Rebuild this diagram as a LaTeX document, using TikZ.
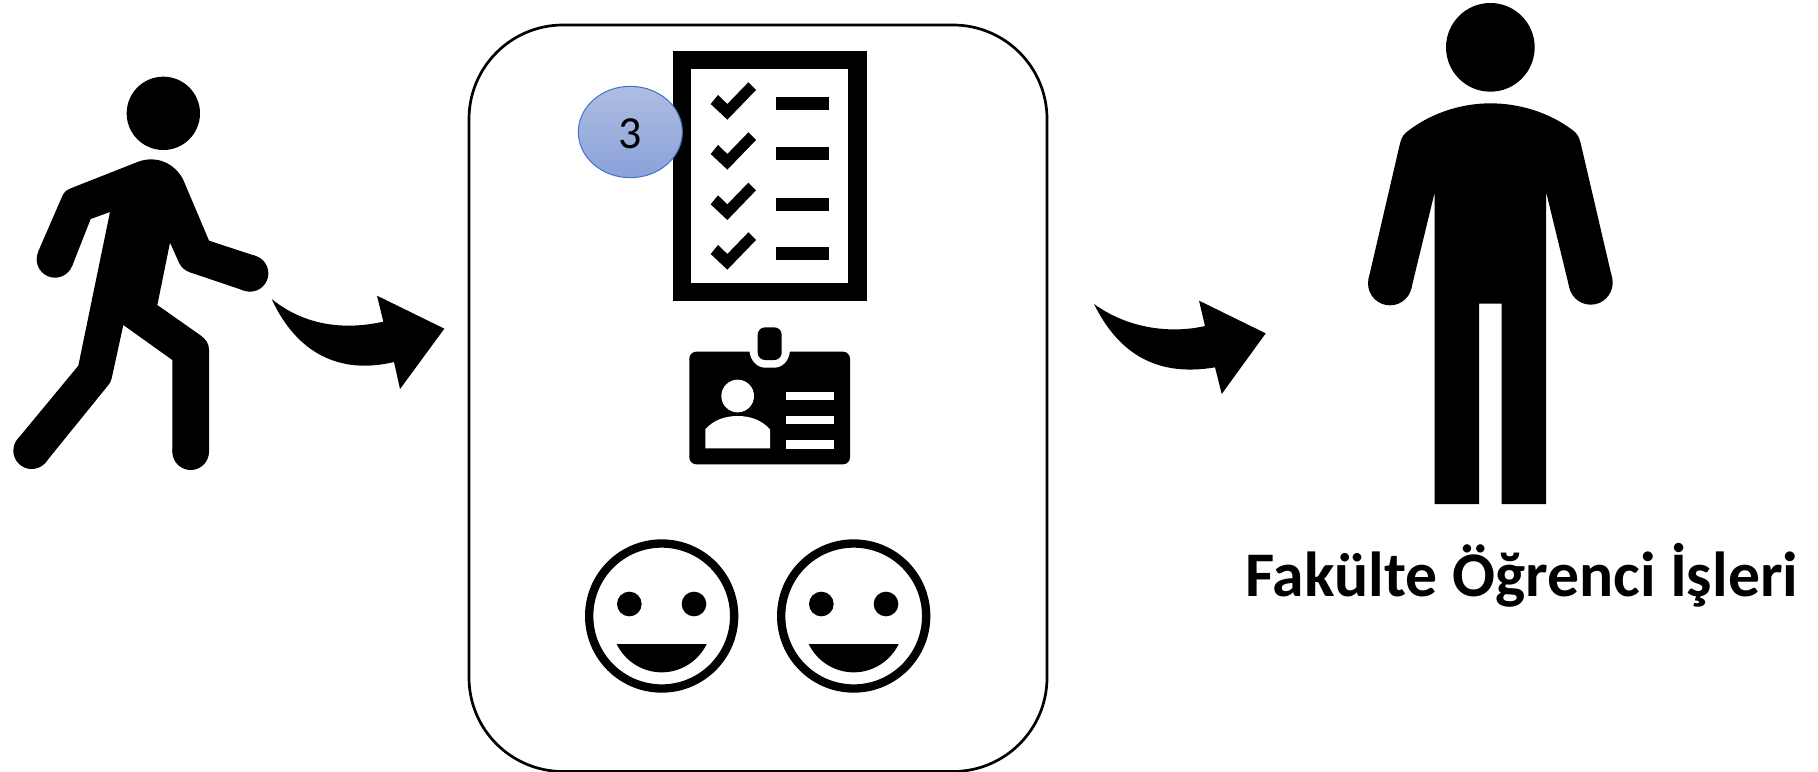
\documentclass[tikz,border=0pt]{standalone}
\usepackage{fontspec}
\setmainfont{Carlito}
\definecolor{badgeedge}{HTML}{4472C4}
\definecolor{badgetop}{HTML}{AEBDE2}
\definecolor{badgebot}{HTML}{8AA2D9}
\tikzset{
  panel/.style={draw=black,line width=1.35pt,rounded corners=47pt,fill=white},
  ink/.style={fill=black,draw=none},
  blank/.style={fill=white,draw=none},
  zoomed/.style={x=0.16667pt,y=-0.16667pt},
  ring/.style={draw=black,line width=4.17pt,fill=white},
}
\begin{document}
\begin{tikzpicture}[x=0.5pt,y=-0.5pt]
\useasboundingbox[fill=white] (0,0) rectangle (1818,771);
\draw[panel] (469,25) rectangle (1047,771.5);
% walking figure
\begin{scope}[shift={(0,60)},zoomed]
\fill[ink] (490,160) circle (110);
\fill[ink] (165,598) circle (55) (750,640) circle (55) (572,1175) circle (55) (95,1172) circle (55);
\fill[ink] (114,576) -- (187,408) .. controls (192,396) and (200,390) .. (212,385)
  -- (415,305) .. controls (470,285) and (525,310) .. (550,360)
  -- (627,542) -- (767,588) -- (733,692)
  -- (570,637) .. controls (555,632) and (545,623) .. (538,610)
  -- (510,548) -- (472,735) -- (600,825) .. controls (618,838) and (627,850) .. (627,870)
  -- (627,1175) -- (517,1175)
  -- (517,900) -- (370,795) -- (335,955) .. controls (332,965) and (330,970) .. (325,975)
  -- (137,1207) -- (53,1137)
  -- (235,917) -- (330,456) -- (272,477) -- (216,619) -- cycle;
\fill[ink] (815,717) .. controls (930,810) and (1060,805) .. (1150,785)
  -- (1131,707) -- (1333,806) -- (1200,987) -- (1182,906)
  .. controls (1020,945) and (890,880) .. (815,717) -- cycle;
\end{scope}
% checklist
\begin{scope}[shift={(560,30)},zoomed]
\fill[ink] (338,62) rectangle (920,814);
\fill[blank] (394,118) rectangle (864,758);
\foreach \dy in {0,150,301,450}{
  \fill[ink] (452,222+\dy) -- (474,195+\dy) -- (502,222+\dy) -- (565,157+\dy)
     -- (588,180+\dy) -- (502,269+\dy) -- cycle;
  \fill[ink] (648,202+\dy) rectangle (808,241+\dy);
}
\shade[top color=badgetop,bottom color=badgebot,draw=badgeedge,line width=0.5pt]
  (211,306) ellipse [x radius=156,y radius=137];
\node[font=\fontsize{23}{27}\selectfont,inner sep=0pt] (num) at (211,311) {3};
\end{scope}
% id badge
\begin{scope}[shift={(670,310)},zoomed]
\fill[ink,rounded corners=3.5pt] (58,125) rectangle (540,463);
\fill[blank] (238,120) .. controls (240,155) and (265,173) .. (285,173) -- (313,173)
   .. controls (335,173) and (358,155) .. (360,120) -- cycle;
\fill[ink,rounded corners=3.7pt] (263,52) rectangle (335,150);
\fill[blank] (203,258) circle (49);
\fill[blank] (106,415) -- (106,358) .. controls (130,330) and (165,318) .. (203,318)
   .. controls (241,318) and (275,330) .. (300,358) -- (300,415) -- cycle;
\foreach \y in {246,318,391}{\fill[blank] (347,\y) rectangle (493,\y+24.5);}
\end{scope}
% smileys
\begin{scope}[shift={(570,520)},zoomed]
\foreach \c in {275,851}{
  \draw[ring] (\c,288) circle (217.5);
  \fill[ink] (\c-97,252) circle (37);
  \fill[ink] (\c+97,252) circle (37);
  \fill[ink] (\c-135,372) -- (\c+135,372)
     .. controls (\c+110,424) and (\c+57,457) .. (\c,457)
     .. controls (\c-57,457) and (\c-110,424) .. (\c-135,372) -- cycle;
}
\end{scope}
% second arrow
\begin{scope}[shift={(1070,280)},zoomed]
\fill[ink] (72,72) .. controls (180,150) and (310,160) .. (405,138)
  -- (387,62) -- (587,160) -- (455,342) -- (435,262)
  .. controls (270,290) and (150,230) .. (72,72) -- cycle;
\end{scope}
% standing figure
\begin{scope}[shift={(1340,0)},zoomed]
\fill[ink] (451,142) circle (133);
\fill[ink] (150,850) circle (66) (752,848) circle (66);
\fill[ink] (284,1512) -- (284,577) -- (214,865) -- (86,835)
  -- (180,430) .. controls (185,410) and (192,402) .. (205,392)
  .. controls (280,335) and (370,310) .. (451,310)
  .. controls (535,310) and (625,335) .. (700,392)
  .. controls (712,402) and (717,410) .. (722,430)
  -- (816,833) -- (688,863)
  -- (618,575) -- (618,1512) -- (485,1512) -- (485,911) -- (417,911) -- (417,1512) -- cycle;
\end{scope}
\node[font=\fontsize{31.8}{36}\bfseries\selectfont,anchor=base west,inner sep=0pt] (caption) at (1245,596) {Fakülte Öğrenci İşleri};
\end{tikzpicture}
\end{document}
